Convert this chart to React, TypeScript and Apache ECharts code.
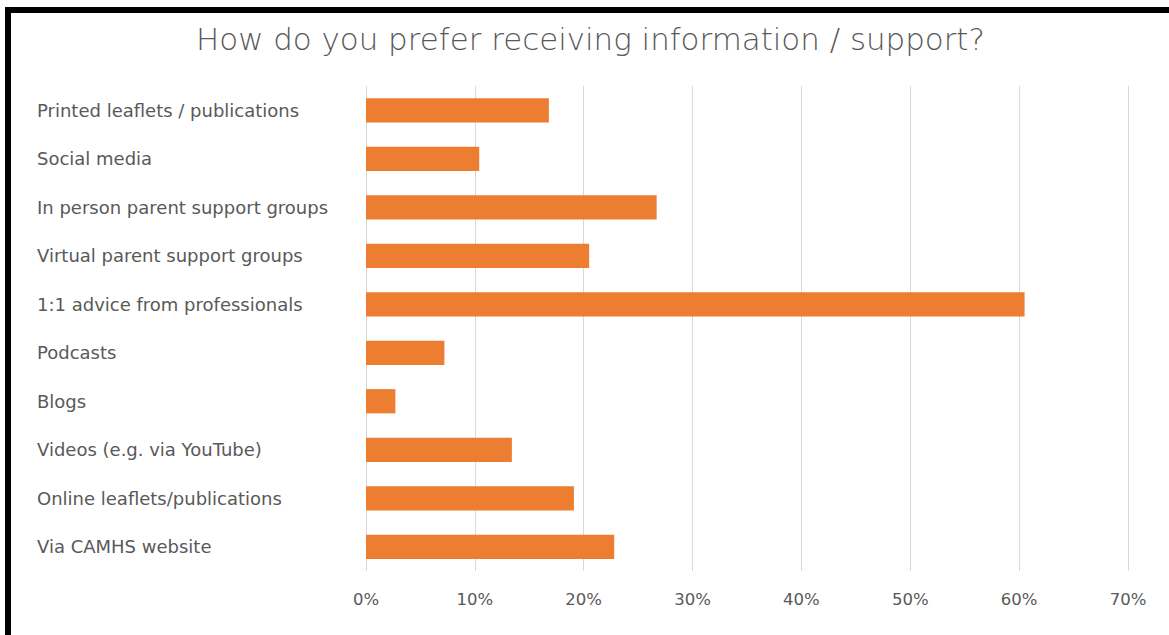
import React, { useEffect, useRef } from "react";
import * as echarts from "echarts";

const categories = [
  "Printed leaflets / publications",
  "Social media",
  "In person parent support groups",
  "Virtual parent support groups",
  "1:1 advice from professionals",
  "Podcasts",
  "Blogs",
  "Videos (e.g. via YouTube)",
  "Online leaflets/publications",
  "Via CAMHS website",
];
const values = [16.8, 10.4, 26.7, 20.5, 60.5, 7.2, 2.7, 13.4, 19.1, 22.8];
const axisMax = 70;
const axisInterval = 10;

export default function App() {
  const ref = useRef<HTMLDivElement>(null);
  useEffect(() => {
    const chart = echarts.init(ref.current!, null, { renderer: "svg" });
    chart.setOption({
      animation: false,
      backgroundColor: "#ffffff",
      title: {
        text: "How do you prefer receiving information / support?",
        left: 191,
        top: 18,
        textStyle: {
          fontFamily: "DejaVu Sans",
          fontWeight: 200,
          fontSize: 30.9,
          color: "#595959",
        },
      },
      grid: { left: 366, right: 41, top: 86, bottom: 64 },
      xAxis: {
        type: "value",
        min: 0,
        max: axisMax,
        interval: axisInterval,
        axisLine: { show: false },
        axisTick: { show: false },
        splitLine: { show: true, lineStyle: { color: "#d9d9d9", width: 1 } },
        axisLabel: {
          formatter: (v: number) => `${v}%`,
          fontFamily: "DejaVu Sans",
          fontSize: 16.5,
          color: "#595959",
          margin: 20,
        },
      },
      yAxis: {
        type: "category",
        data: categories,
        inverse: true,
        axisLine: { show: false },
        axisTick: { show: false },
        axisLabel: {
          align: "left",
          margin: 329,
          fontFamily: "DejaVu Sans",
          fontSize: 18,
          color: "#595959",
        },
      },
      series: [
        {
          type: "bar",
          data: values,
          barCategoryGap: "50%",
          itemStyle: { color: "#ED7D31" },
        },
      ],
    });
    return () => chart.dispose();
  }, []);
  return (
    <div style={{ position: "fixed", left: 0, top: 0, width: 1169, height: 635, background: "#fff" }}>
      <div ref={ref} style={{ position: "absolute", left: 0, top: 0, width: 1169, height: 635 }} />
      <div style={{ position: "absolute", left: 5, top: 7, width: 1164, height: 6, background: "#000" }} />
      <div style={{ position: "absolute", left: 5, top: 7, width: 6, height: 628, background: "#000" }} />
    </div>
  );
}
